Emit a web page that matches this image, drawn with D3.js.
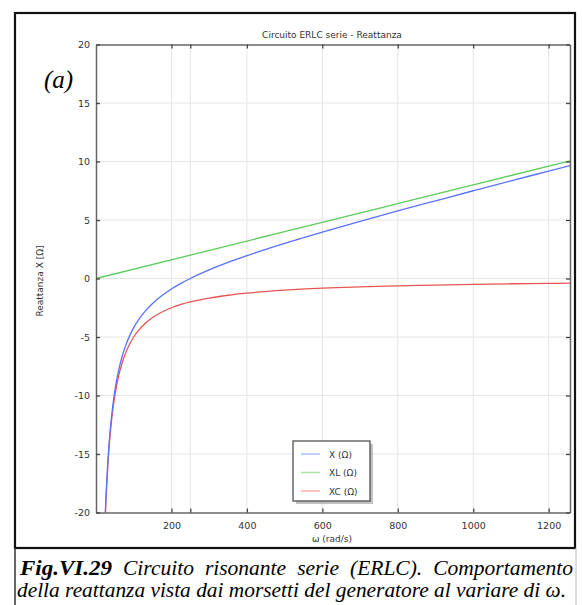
<!DOCTYPE html>
<html><head><meta charset="utf-8">
<script src="https://cdn.jsdelivr.net/npm/d3@7"></script>
<style>body{margin:0;background:#fff}svg{display:block}</style>
</head><body>
<script>
// ---- data ----
const omega = [22,25,28,32,36,40,45,50,55,60,70,80,90,100,115,130,150,175,200,225,250,300,350,400,500,600,700,800,900,1000,1100,1200,1256.6];
const xValues = [-22.55,-19.8,-17.64,-15.37,-13.6,-12.18,-10.75,-9.6,-8.65,-7.85,-6.58,-5.61,-4.84,-4.2,-3.43,-2.81,-2.13,-1.46,-0.9,-0.42,0,0.73,1.37,1.95,3.0,3.97,4.89,5.78,6.64,7.5,8.35,9.18,9.65];
const xcValues = [-22.73,-20,-17.86,-15.63,-13.89,-12.5,-11.11,-10,-9.09,-8.33,-7.14,-6.25,-5.56,-5,-4.35,-3.85,-3.33,-2.86,-2.5,-2.22,-2,-1.67,-1.43,-1.25,-1,-0.83,-0.71,-0.63,-0.56,-0.5,-0.45,-0.42,-0.4];
const omegaXL = [0,250,500,750,1000,1256.6];
const xlValues = [0,2,4,6,8,10.05];
const xTicks = [200,250,400,600,800,1000,1200];
const xTickLabels = ["200","","400","600","800","1000","1200"];
const yTicks = [-20,-15,-10,-5,0,5,10,15,20];
const seriesNames = ["X (\u03A9)","XL (\u03A9)","XC (\u03A9)"];
const seriesColors = ["#5872ff","#5ccc5c","#e85454"];
const legendColors = ["#aebcff","#aee0ae","#ffaeae"];

const W=582,H=605;
const svg=d3.select("body").append("svg").attr("width",W).attr("height",H);
const m={l:96,r:570,t:44.5,b:512.5};
const x=d3.scaleLinear().domain([0,1256.6]).range([m.l,m.r]);
const y=d3.scaleLinear().domain([-20,20]).range([m.b,m.t]);

// outer frames
svg.append("rect").attr("x",15).attr("y",13).attr("width",560).attr("height",535).attr("fill","none").attr("stroke","#111").attr("stroke-width",2.2);
svg.append("line").attr("x1",15).attr("x2",15).attr("y1",548).attr("y2",605).attr("stroke","#333").attr("stroke-width",1.5);
svg.append("line").attr("x1",576).attr("x2",576).attr("y1",548).attr("y2",605).attr("stroke","#bbb").attr("stroke-width",1);

// grid
const g=svg.append("g");
g.selectAll(".gx").data(xTicks).join("line").attr("x1",d=>x(d)).attr("x2",d=>x(d)).attr("y1",m.t).attr("y2",m.b).attr("stroke","#e4e4e4").attr("stroke-width",1);
g.selectAll(".gy").data(yTicks.slice(1,-1)).join("line").attr("y1",d=>y(d)).attr("y2",d=>y(d)).attr("x1",m.l).attr("x2",m.r).attr("stroke","#e4e4e4").attr("stroke-width",1);

// clip
svg.append("clipPath").attr("id","pc").append("rect").attr("x",m.l).attr("y",m.t).attr("width",m.r-m.l).attr("height",m.b-m.t);
const line=d3.line().curve(d3.curveMonotoneX);
const pl=svg.append("g").attr("clip-path","url(#pc)");
pl.append("path").attr("d",line(omegaXL.map((w,i)=>[x(w),y(xlValues[i])]))).attr("fill","none").attr("stroke",seriesColors[1]).attr("stroke-width",1.3);
pl.append("path").attr("d",line(omega.map((w,i)=>[x(w),y(xcValues[i])]))).attr("fill","none").attr("stroke",seriesColors[2]).attr("stroke-width",1.3);
pl.append("path").attr("d",line(omega.map((w,i)=>[x(w),y(xValues[i])]))).attr("fill","none").attr("stroke",seriesColors[0]).attr("stroke-width",1.3);

// axes (ticks inward on all sides)
const ac="#666";
const fmt=d=>{const i=xTicks.indexOf(d);return xTickLabels[i];};
const bx=svg.append("g").attr("transform",`translate(0,${m.b})`).call(d3.axisBottom(x).tickValues(xTicks).tickFormat(fmt).tickSizeInner(-4).tickSizeOuter(0).tickPadding(10));
const tx=svg.append("g").attr("transform",`translate(0,${m.t})`).call(d3.axisTop(x).tickValues(xTicks).tickFormat("").tickSizeInner(-4).tickSizeOuter(0));
const ly=svg.append("g").attr("transform",`translate(${m.l},0)`).call(d3.axisLeft(y).tickValues(yTicks).tickFormat(d=>String(d)).tickSizeInner(-4).tickSizeOuter(0).tickPadding(6));
const ry=svg.append("g").attr("transform",`translate(${m.r},0)`).call(d3.axisRight(y).tickValues(yTicks).tickFormat("").tickSizeInner(-4).tickSizeOuter(0));
[bx,tx,ly,ry].forEach(a=>{a.select(".domain").attr("stroke",ac).attr("stroke-width",1.5);a.selectAll(".tick line").attr("stroke","#444").attr("stroke-width",1.3);a.selectAll("text").attr("fill","#333").style("font-family","DejaVu Sans").style("font-size","9.5px");});

// titles
svg.append("text").attr("x",332).attr("y",38).attr("text-anchor","middle").style("font-family","DejaVu Sans").style("font-size","9px").attr("fill","#333").text("Circuito ERLC serie - Reattanza");
svg.append("text").attr("x",332).attr("y",542).attr("text-anchor","middle").style("font-family","DejaVu Sans").style("font-size","9px").attr("fill","#333").text("\u03C9 (rad/s)");
svg.append("text").attr("transform","translate(43,281) rotate(-90)").attr("text-anchor","middle").style("font-family","DejaVu Sans").style("font-size","9px").attr("fill","#333").text("Reattanza X [\u03A9]");
svg.append("text").attr("x",44).attr("y",88).style("font-family","Liberation Serif").style("font-style","italic").style("font-size","25px").attr("fill","#000").text("(a)");

// legend
const lg=svg.append("g");
lg.append("rect").attr("x",296).attr("y",444).attr("width",77).attr("height",60).attr("fill","#999").attr("opacity",0.6);
lg.append("rect").attr("x",293).attr("y",441).attr("width",77).attr("height",60).attr("fill","#fff").attr("stroke","#444").attr("stroke-width",1.2);
seriesNames.forEach((n,i)=>{
  const yy=454+i*18.5;
  lg.append("line").attr("x1",301).attr("x2",320).attr("y1",yy).attr("y2",yy).attr("stroke",legendColors[i]).attr("stroke-width",1.5);
  lg.append("text").attr("x",329).attr("y",yy+3.5).style("font-family","DejaVu Sans").style("font-size","9px").attr("fill","#333").text(n);
});

// caption (justified first line)
const cap=svg.append("g").style("font-family","Liberation Serif").style("font-size","21.5px").attr("fill","#000");
const line1=[{t:"Fig.VI.29",b:true},{t:"Circuito"},{t:"risonante"},{t:"serie"},{t:"(ERLC)."},{t:"Comportamento"}];
const x0=20,x1=573;
const nodes=line1.map(w=>cap.append("text").attr("y",575).style("font-style","italic").style("font-weight",w.b?"bold":"normal").text(w.t));
nodes[0].attr("textLength",92).attr("lengthAdjust","spacingAndGlyphs");
const widths=nodes.map((n,i)=>i===0?92:n.node().getComputedTextLength());
const gap=(x1-x0-d3.sum(widths))/(nodes.length-1);
let cx=x0;nodes.forEach((n,i)=>{n.attr("x",cx);cx+=widths[i]+gap;});
cap.append("text").attr("x",17).attr("y",597).style("font-style","italic").attr("textLength",549).attr("lengthAdjust","spacingAndGlyphs").text("della reattanza vista dai morsetti del generatore al variare di \u03C9.");
</script>
</body></html>
